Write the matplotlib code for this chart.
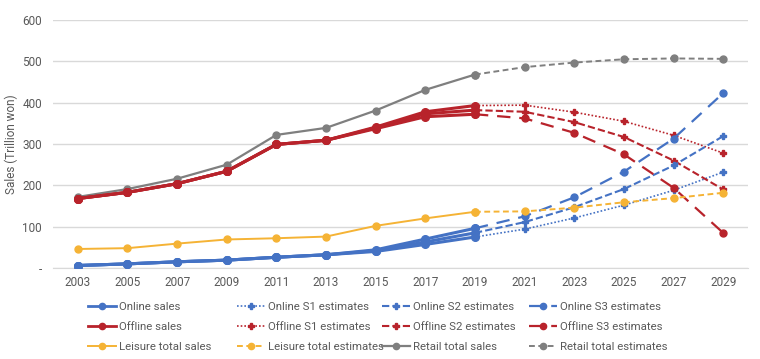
import numpy as np
import matplotlib
matplotlib.use("Agg")
import matplotlib.pyplot as plt
from matplotlib.lines import Line2D

plt.rcParams['font.family'] = ['Roboto', 'DejaVu Sans']

years = [2003, 2005, 2007, 2009, 2011, 2013, 2015, 2017, 2019,
         2021, 2023, 2025, 2027, 2029]
LAST_ACTUAL = 8  # index of 2019

# online sales, per scenario (actuals up to 2019, estimates after)
online_s1 = [6, 10, 15, 19, 26, 32, 40, 57, 75, 94, 121, 152, 188, 232]
online_s2 = [6, 10, 15, 19, 26, 32, 42, 63, 85, 111, 147, 191, 248, 319]
online_s3 = [6, 10, 15, 19, 26, 32, 44, 70, 96, 125, 171, 233, 313, 423]

offline_s1 = [168, 183, 204, 234, 299, 309, 341, 378, 393, 394, 377, 355, 321, 278]
offline_s2 = [168, 183, 204, 234, 299, 309, 339, 373, 382, 378, 353, 317, 260, 190]
offline_s3 = [168, 183, 204, 234, 299, 309, 337, 366, 372, 362, 327, 275, 194, 85]

leisure = [46, 48, 59, 69, 72, 76, 102, 120, 136, 137, 146, 159, 169, 182]
retail = [172, 191, 216, 250, 322, 339, 381, 431, 468, 486, 497, 505, 507, 506]

BLUE = "#4472C4"
RED = "#B8232B"
YELLOW = "#F5B335"
GRAY = "#7F7F7F"
TXT = "#595959"

S1 = (0, (1, 1.2))
S2 = (0, (3.5, 1.5))
S3 = (0, (6, 4))
EST = (0, (3, 1.8))

fig = plt.figure(figsize=(7.6, 3.59), dpi=100)
ax = fig.add_axes([53 / 760, 1 - 268 / 359, (748 - 53) / 760, (268 - 20) / 359])

x = np.arange(len(years))
a = slice(0, LAST_ACTUAL + 1)
e = slice(LAST_ACTUAL, len(years))

# retail + leisure
ax.plot(x[a], retail[a], color=GRAY, lw=1.6, marker="o", ms=5, zorder=3)
ax.plot(x[e], retail[e], color=GRAY, lw=1.4, ls=EST, marker="o", ms=5, zorder=3)
ax.plot(x[a], leisure[a], color=YELLOW, lw=1.4, marker="o", ms=5, zorder=3)
ax.plot(x[e], leisure[e], color=YELLOW, lw=1.4, ls=EST, marker="o", ms=5, zorder=4)

# scenario estimates
for vals, col in [(offline_s1, RED), (online_s1, BLUE)]:
    ax.plot(x[e], np.array(vals)[e], color=col, lw=1.2, ls=S1, marker="P", ms=5, zorder=3)
for vals, col in [(offline_s2, RED), (online_s2, BLUE)]:
    ax.plot(x[e], np.array(vals)[e], color=col, lw=1.5, ls=S2, marker="P", ms=5, zorder=3)
for vals, col in [(offline_s3, RED), (online_s3, BLUE)]:
    ax.plot(x[e], np.array(vals)[e], color=col, lw=1.6, ls=S3, marker="o", ms=5, zorder=3)

# actual online / offline (thick)
for vals in [offline_s1, offline_s2, offline_s3]:
    ax.plot(x[a], np.array(vals)[a], color=RED, lw=2.2, marker="o", ms=5.5, zorder=4)
for vals in [online_s1, online_s2, online_s3]:
    ax.plot(x[a], np.array(vals)[a], color=BLUE, lw=2.2, marker="o", ms=5.5, zorder=4)

ax.set_xlim(-0.5, len(years) - 0.5)
ax.set_ylim(0, 600)
ax.set_xticks(x)
ax.set_xticklabels([str(y) for y in years])
ax.set_yticks(range(0, 601, 100))
ax.set_yticklabels(["-"] + [str(v) for v in range(100, 601, 100)])
ax.tick_params(axis="both", length=0, colors=TXT, labelsize=8.5)
ax.tick_params(axis="y", pad=8)
ax.tick_params(axis="x", pad=6)
ax.grid(axis="y", color="#D9D9D9", lw=1)
ax.set_axisbelow(True)
for sp in ["top", "right", "left"]:
    ax.spines[sp].set_visible(False)
ax.spines["bottom"].set_color("#D9D9D9")
ax.set_ylabel("Sales (Trillion won)", color=TXT, fontsize=8.5, labelpad=3)

# legend, 4 fixed columns
def h(col, ls, lw, mk):
    return Line2D([], [], color=col, ls=ls, lw=lw, marker=mk, ms=4.5)

columns = [
    [(h(BLUE, "-", 2, "o"), "Online sales"),
     (h(RED, "-", 2, "o"), "Offline sales"),
     (h(YELLOW, "-", 1.4, "o"), "Leisure total sales")],
    [(h(BLUE, S1, 1.2, "P"), "Online S1 estimates"),
     (h(RED, S1, 1.2, "P"), "Offline S1 estimates"),
     (h(YELLOW, EST, 1.4, "o"), "Leisure total estimates")],
    [(h(BLUE, S2, 1.5, "P"), "Online S2 estimates"),
     (h(RED, S2, 1.5, "P"), "Offline S2 estimates"),
     (h(GRAY, "-", 1.6, "o"), "Retail total sales")],
    [(h(BLUE, S3, 1.6, "o"), "Online S3 estimates"),
     (h(RED, S3, 1.6, "o"), "Offline S3 estimates"),
     (h(GRAY, EST, 1.4, "o"), "Retail total estimates")],
]
col_x = [88, 237, 382, 529]
for cx, items in zip(col_x, columns):
    leg = fig.legend([i[0] for i in items], [i[1] for i in items],
                     loc="upper left", bbox_to_anchor=(cx / 760, 1 - 302 / 359),
                     frameon=False, fontsize=8.2, handlelength=2.5,
                     handletextpad=0.25, labelspacing=0.86, borderaxespad=0,
                     borderpad=0)
    for t in leg.get_texts():
        t.set_color(TXT)

fig.savefig("out.png", dpi=100)
